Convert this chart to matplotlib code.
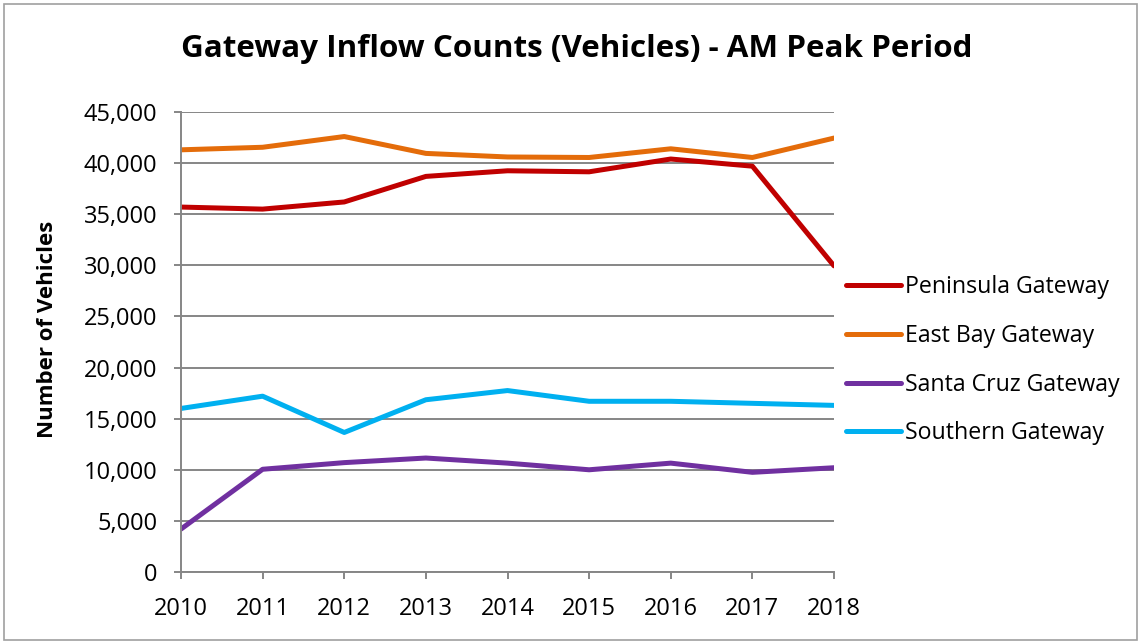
import matplotlib
matplotlib.use("Agg")
import matplotlib.pyplot as plt
from matplotlib.patches import Rectangle
from matplotlib.ticker import FuncFormatter

years = [2010, 2011, 2012, 2013, 2014, 2015, 2016, 2017, 2018]
peninsula = [35700, 35500, 36200, 38700, 39250, 39150, 40400, 39700, 29950]
east_bay = [41300, 41550, 42600, 40950, 40600, 40550, 41400, 40550, 42450]
santa_cruz = [4200, 10050, 10700, 11150, 10650, 10000, 10650, 9750, 10200]
southern = [16000, 17200, 13650, 16850, 17750, 16700, 16700, 16500, 16300]

series = [
    ("Peninsula Gateway", peninsula, "#C00000"),
    ("East Bay Gateway", east_bay, "#E46C0A"),
    ("Santa Cruz Gateway", santa_cruz, "#7030A0"),
    ("Southern Gateway", southern, "#00B0F0"),
]

plt.rcParams["font.family"] = ["Open Sans", "DejaVu Sans"]
grid_color = "#868686"

fig = plt.figure(figsize=(11.41, 6.43), dpi=100)
fig.patches.append(Rectangle((4 / 1141, 3 / 643), 1133 / 1141, 636 / 643,
                             transform=fig.transFigure, fill=False,
                             edgecolor="#a0a0a0", linewidth=1.2))

ax = fig.add_axes([181 / 1141, 71 / 643, 653 / 1141, 460 / 643])
for label, vals, color in series:
    ax.plot(years, vals, color=color, linewidth=3.6, label=label,
            solid_capstyle="round", solid_joinstyle="round")

ax.set_xlim(2010, 2018)
ax.set_ylim(0, 45000)
ax.set_xticks(years)
ax.set_yticks(range(0, 45001, 5000))
ax.yaxis.set_major_formatter(FuncFormatter(lambda v, p: f"{int(v):,}"))
ax.grid(axis="y", color=grid_color, linewidth=1.4)
ax.set_axisbelow(True)
for s in ["top", "right"]:
    ax.spines[s].set_visible(False)
for s in ["left", "bottom"]:
    ax.spines[s].set_color(grid_color)
    ax.spines[s].set_linewidth(1.4)
ax.tick_params(axis="both", direction="out", length=5, width=1.4,
               color=grid_color, labelsize=17)
ax.tick_params(axis="y", pad=12)
ax.tick_params(axis="x", pad=13)

fig.text(48 / 1141, 1 - 329 / 643, "Number of Vehicles", rotation=90,
         ha="center", va="center", fontsize=16, fontweight="bold")
fig.text(577 / 1141, 1 - 49 / 643, "Gateway Inflow Counts (Vehicles) - AM Peak Period",
         ha="center", va="center", fontsize=22.6, fontweight="bold")

fig.legend(loc="upper left", bbox_to_anchor=(846 / 1141, 1 - 275 / 643),
           frameon=False, fontsize=16.7, handlelength=2.37, handletextpad=0.17,
           labelspacing=1.07, borderpad=0, borderaxespad=0)

fig.savefig("out.png", dpi=100)
